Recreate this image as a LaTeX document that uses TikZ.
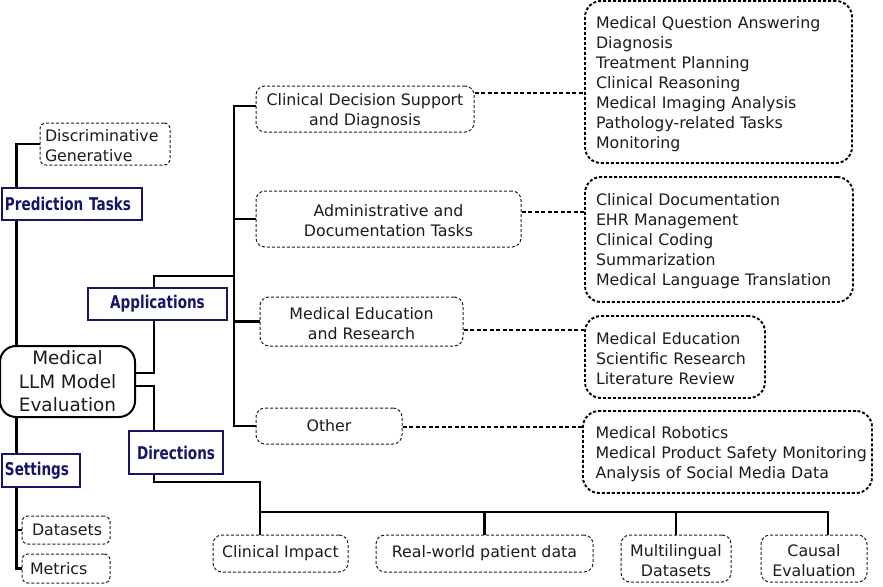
\documentclass[tikz,border=0pt]{standalone}
\usepackage{fontspec}
\setmainfont{DejaVu Sans}
\newfontfamily\labelfont{DejaVu Sans Bold}[FakeStretch=0.77]
\usetikzlibrary{backgrounds}
\definecolor{navy}{RGB}{22,22,105}
\definecolor{txt}{RGB}{28,28,28}
\definecolor{leafgray}{RGB}{30,30,30}
\newcommand\lowstrut{\rule{0pt}{16pt}}
\tikzset{
  base/.style={inner sep=0pt, font=\fontsize{15.8pt}{20pt}\selectfont, text=txt},
  lower/.style={execute at begin node={\lowstrut}},
  rootbox/.style={base, draw=black, line width=2pt, rounded corners=16pt, fill=white, align=center, font=\fontsize{18.4pt}{23.5pt}\selectfont},
  lbl/.style={draw=navy, line width=2pt, fill=white, text=navy, font=\labelfont\fontsize{17.6pt}{20pt}\selectfont, inner sep=0pt},
  leaf/.style={base, draw=leafgray, line width=1pt, densely dashed, rounded corners=9pt, fill=white, align=center},
  detail/.style={base, lower, draw=black, line width=1.9pt, dash pattern=on 3pt off 2pt, rounded corners=16pt, align=left, inner xsep=11pt},
  trunk/.style={line width=2.8pt, black},
  dlink/.style={line width=2.5pt, dash pattern=on 4pt off 2.5pt},
  dlinkthin/.style={line width=1.7pt, dash pattern=on 4pt off 2.5pt},
}
\begin{document}
\begin{tikzpicture}[x=1pt,y=-1pt]
\useasboundingbox (0,0) rectangle (883,586);
% root
\node[rootbox, minimum width=135pt, minimum height=71pt] (root) at (67.5,381.5) {Medical\\LLM Model\\Evaluation};
% labels
\node[lbl, minimum width=140pt, minimum height=32pt, text width=134pt, align=left, inner xsep=3pt] (pred) at (72,204) {Prediction Tasks};
\node[lbl, minimum width=139pt, minimum height=32pt] (apps) at (157.5,304) {Applications};
\node[lbl, minimum width=94pt, minimum height=43pt] (dirs) at (176,452.5) {Directions};
\node[lbl, minimum width=78pt, minimum height=33pt, text width=72pt, align=left, inner xsep=3pt] (settings) at (41,470.5) {Settings};
% small leaves
\node[leaf, lower, minimum width=130pt, minimum height=42pt, text width=120pt, align=left, inner xsep=5pt, rounded corners=6pt] (disc) at (105,144) {Discriminative\\Generative};
\node[leaf, minimum width=88pt, minimum height=28pt, text width=76pt, align=left, inner xsep=6pt, rounded corners=6pt] (datasets) at (66,530) {\hspace{4pt}Datasets};
\node[leaf, minimum width=88pt, minimum height=29pt, text width=76pt, align=left, inner xsep=6pt, rounded corners=6pt] (metrics) at (66,568.5) {\hspace{2pt}Metrics};
% application categories
\node[leaf, minimum width=218pt, minimum height=46pt] (cds) at (365,109) {\lowstrut Clinical Decision Support\\and Diagnosis};
\node[leaf, minimum width=265pt, minimum height=56pt] (admin) at (388.5,219) {\lowstrut Administrative and\\Documentation Tasks};
\node[leaf, minimum width=203pt, minimum height=49pt] (meded) at (361.5,321.5) {\lowstrut Medical Education\\and Research};
\node[leaf, minimum width=146pt, minimum height=36pt] (other) at (329,426) {Other};
% detail boxes
\node[detail, minimum width=267pt, minimum height=162pt, text width=245pt] (box1) at (718.5,82) {Medical Question Answering\\Diagnosis\\Treatment Planning\\Clinical Reasoning\\Medical Imaging Analysis\\Pathology-related Tasks\\Monitoring};
\node[detail, minimum width=268pt, minimum height=125pt, text width=246pt] (box2) at (719,239.5) {Clinical Documentation\\EHR Management\\Clinical Coding\\Summarization\\Medical Language Translation};
\node[detail, minimum width=180pt, minimum height=82pt, text width=158pt] (box3) at (675,357) {Medical Education\\Scientific Research\\Literature Review};
\node[detail, minimum width=289pt, minimum height=82pt, text width=282pt, inner xsep=3.5pt] (box4) at (727.5,452) {\hspace*{9pt}Medical Robotics\\\hspace*{9pt}Medical Product Safety Monitoring\\\hspace*{9pt}Analysis of Social Media Data};
% directions
\node[leaf, minimum width=135pt, minimum height=37pt] (clin) at (280.5,553.5) {Clinical Impact};
\node[leaf, minimum width=217pt, minimum height=37pt] (real) at (484.5,553.5) {Real-world patient data};
\node[leaf, minimum width=110pt, minimum height=47pt] (multi) at (676,558.5) {\lowstrut Multilingual\\Datasets};
\node[leaf, minimum width=106pt, minimum height=47pt] (causal) at (814,558.5) {\lowstrut Causal\\Evaluation};
% connectors
\begin{scope}[on background layer]
  \coordinate (ja) at (154,0);
  \coordinate (ta) at (234,276);
  \coordinate (jb) at (260,482);
  \coordinate (busL) at (260,512);
  \coordinate (busR) at (828,512);
  \draw[trunk] (disc.west) -- ++(-23,0) coordinate (tk) -- (tk |- root.north);
  \draw[trunk] (tk |- root.south) -- (tk |- metrics.west) -- (metrics.west);
  \draw[trunk] (tk |- datasets.west) -- (datasets.west);
  \draw[trunk] ([yshift=8.5pt]root.east) -| (ja |- apps.south);
  \draw[trunk] ([yshift=-4.5pt]root.east) -| (ja |- dirs.north);
  \draw[trunk] (ja |- dirs.south) |- (jb) -- (jb |- clin.north);
  \draw[trunk] (busL) -- (busR) -- (busR |- causal.north);
  \draw[trunk] (real.north |- busL) -- (real.north);
  \draw[trunk] (multi.north |- busL) -- (multi.north);
  \draw[trunk] (ja |- apps.north) |- (ta);
  \draw[trunk] ([yshift=3pt]cds.west) -| (ta |- other.west) -- (other.west);
  \draw[trunk] (ta |- admin.west) -- (admin.west);
  \draw[trunk] (ta |- meded.west) -- (meded.west);
  \coordinate (c1) at ([yshift=16pt]cds.east);
  \coordinate (c2) at ([yshift=7pt]admin.east);
  \coordinate (c3) at ([yshift=-8.5pt]meded.east);
  \coordinate (c4) at ([yshift=-1pt]other.east);
  \draw[dlink] (c1) -- (c1 -| box1.west);
  \draw[dlink] (c2) -- (c2 -| box2.west);
  \draw[dlink] (c3) -- (c3 -| box3.west);
  \draw[dlinkthin] (c4) -- (c4 -| box4.west);
\end{scope}
\end{tikzpicture}
\end{document}
